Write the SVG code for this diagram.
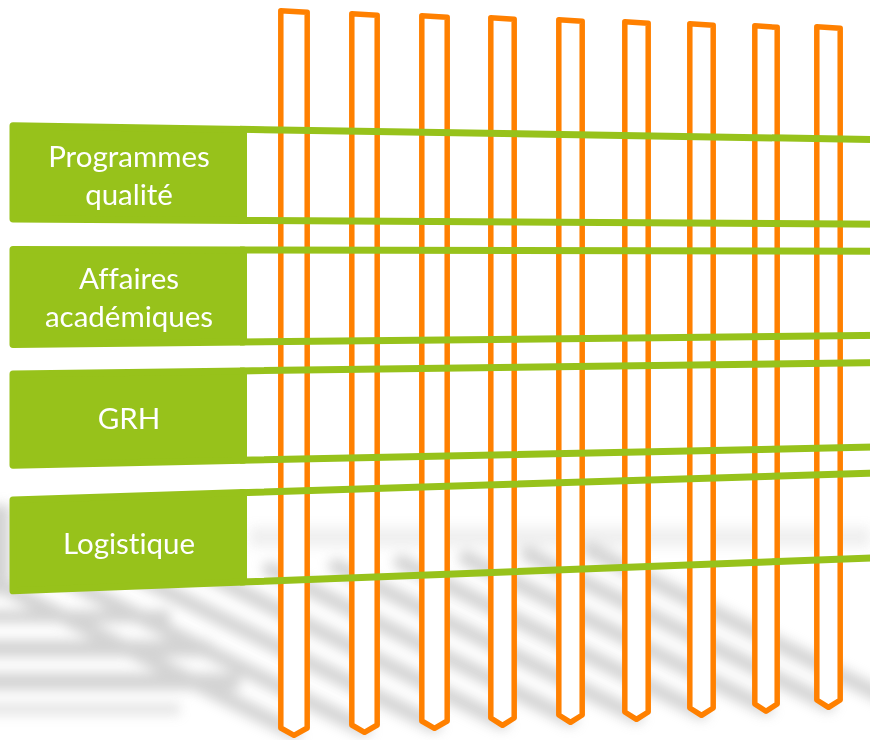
<svg xmlns="http://www.w3.org/2000/svg" width="870" height="740" viewBox="0 0 870 740">
  <defs>
    <filter id="blur" x="-20%" y="-20%" width="140%" height="140%">
      <feGaussianBlur stdDeviation="6"/>
    </filter>
    <style>
      .bar { fill: #ffffff; stroke: #ff8000; stroke-width: 5.5; stroke-linejoin: round; }
      .box { fill: #97c21b; stroke: #97c21b; stroke-width: 7; stroke-linejoin: round; }
      .band { fill: none; stroke: #97c21b; stroke-width: 7; }
      .lbl { fill: #ffffff; font-family: Lato, "Open Sans", "Liberation Sans", sans-serif; font-size: 29.5px; text-anchor: middle; font-variant-ligatures: none; font-feature-settings: "liga" 0; }
      .sh { stroke: #b0b0b0; stroke-width: 15; stroke-linecap: round; fill: none; }
      .shh { fill: #b0b0b0; }
    </style>
  </defs>
  <rect width="870" height="740" fill="#ffffff"/>

  <!-- floor shadow -->
  <g id="shadow" filter="url(#blur)" opacity="0.55">
    <rect class="shh" x="-20" y="610" width="190" height="13"/>
    <rect class="shh" x="-20" y="640" width="230" height="17"/>
    <rect class="shh" x="-20" y="673" width="260" height="17"/>
    <rect class="shh" x="-20" y="703" width="200" height="12" opacity="0.6"/>
    <rect class="shh" x="-20" y="505" width="30" height="90"/>
    <rect class="shh" x="250" y="527" width="620" height="20" opacity="0.35"/>
    <line class="sh" x1="294" y1="732" x2="-6" y2="582"/>
    <line class="sh" x1="364" y1="729" x2="64" y2="579"/>
    <line class="sh" x1="434" y1="725" x2="134" y2="575"/>
    <line class="sh" x1="502" y1="722" x2="202" y2="572"/>
    <line class="sh" x1="570" y1="719" x2="270" y2="569"/>
    <line class="sh" x1="636" y1="716" x2="336" y2="566"/>
    <line class="sh" x1="701" y1="712" x2="401" y2="562"/>
    <line class="sh" x1="766" y1="708" x2="466" y2="558"/>
    <line class="sh" x1="828" y1="704" x2="528" y2="554"/>
    <line class="sh" x1="890" y1="700" x2="590" y2="550"/>
  </g>

  <!-- vertical orange bars -->
  <g id="bar1"><path class="bar" d="M280.8,10.8 L307.2,12.3 L307.2,728 L294,735.3 L280.8,728 Z"/></g>
  <g id="bar2"><path class="bar" d="M351.8,13.8 L377.2,15.3 L377.2,725 L364.5,732.3 L351.8,725 Z"/></g>
  <g id="bar3"><path class="bar" d="M421.8,15.8 L447.2,17.3 L447.2,721 L434.5,728.3 L421.8,721 Z"/></g>
  <g id="bar4"><path class="bar" d="M490.8,17.8 L514.2,19.3 L514.2,718 L502.5,725.3 L490.8,718 Z"/></g>
  <g id="bar5"><path class="bar" d="M558.8,19.8 L582.2,21.3 L582.2,715 L570.5,722.3 L558.8,715 Z"/></g>
  <g id="bar6"><path class="bar" d="M624.8,21.8 L648.2,23.3 L648.2,712 L636.5,719.3 L624.8,712 Z"/></g>
  <g id="bar7"><path class="bar" d="M689.8,23.8 L713.2,25.3 L713.2,708 L701.5,715.3 L689.8,708 Z"/></g>
  <g id="bar8"><path class="bar" d="M754.8,25.8 L777.2,27.3 L777.2,704 L766,711.3 L754.8,704 Z"/></g>
  <g id="bar9"><path class="bar" d="M816.8,26.8 L840.2,28.3 L840.2,700 L828.5,707.3 L816.8,700 Z"/></g>

  <!-- green bands (connectors) -->
  <g id="bands">
    <path class="band" d="M240,129.3 L885,139.7 M240,220.4 L885,224.2"/>
    <path class="band" d="M240,250 L885,251.2 M240,342.1 L885,335.3"/>
    <path class="band" d="M240,370.9 L885,362.6 M240,460.3 L885,446.8"/>
    <path class="band" d="M240,492.7 L885,472.7 M240,582.1 L885,557.5"/>
  </g>

  <g id="node-programmes">
    <polygon class="box" points="13,125.7 243.5,129.4 243.5,220.5 13,219.1"/>
    <text class="lbl" x="129" y="167">Programmes</text>
    <text class="lbl" x="129" y="205">qualité</text>
  </g>
  <g id="node-affaires">
    <polygon class="box" points="13,249.5 243.5,250 243.5,342 13,344.5"/>
    <text class="lbl" x="129" y="289">Affaires</text>
    <text class="lbl" x="129" y="327">académiques</text>
  </g>
  <g id="node-grh">
    <polygon class="box" points="13,373.9 243.5,370.9 243.5,460.3 13,465.2"/>
    <text class="lbl" x="129" y="429">GRH</text>
  </g>
  <g id="node-logistique">
    <polygon class="box" points="13,499.9 243.5,492.6 243.5,581.9 13,590.8"/>
    <text class="lbl" x="129" y="554">Logistique</text>
  </g>
</svg>
